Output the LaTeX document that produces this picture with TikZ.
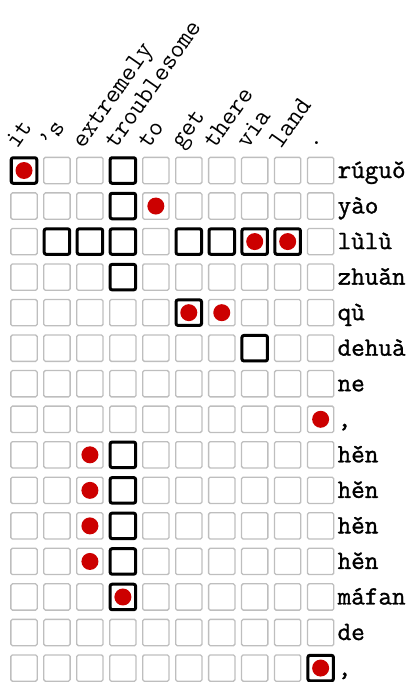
\documentclass[tikz,border=0pt]{standalone}
\usepackage{fontspec}
\newfontfamily\pinyinfont{Latin Modern Mono}[FakeBold=1.2]
\usetikzlibrary{positioning}
\definecolor{dotred}{RGB}{204,0,0}
\definecolor{cellgray}{RGB}{190,190,190}

\begin{document}
\begin{tikzpicture}[
  x=1bp, y=-1bp,
  cell/.style={draw=cellgray, line width=1.3bp, rounded corners=1.5bp, minimum width=26.3bp, minimum height=26.3bp, inner sep=0pt},
  hit/.style={draw=black, line width=3bp, rounded corners=2bp, minimum width=25.5bp, minimum height=25.5bp, inner sep=0pt},
  dot/.style={circle, fill=dotred, minimum size=17bp, inner sep=0pt},
  src/.style={font=\ttfamily\fontsize{26.5}{26.5}\selectfont, anchor=base west, rotate=55, inner sep=0pt},
  tgt/.style={font=\pinyinfont\fontsize{26.5}{26.5}\selectfont, anchor=base west, inner sep=0pt}
]
  \useasboundingbox (0,0) rectangle (411,682);
  % grid of cells
  \foreach \r in {0,...,14}
    \foreach \c in {0,...,9}
      \node[cell] (c\r-\c) at ({24+32.96*\c}, {170.5+35.54*\r}) {};
  % alignment boxes
  \foreach \r/\c in {0/0, 0/3, 1/3, 2/1, 2/2, 2/3, 2/5, 2/6, 2/7, 2/8, 3/3, 4/5, 5/7,
                     8/3, 9/3, 10/3, 11/3, 12/3, 14/9}
    \node[hit] (h\r-\c) at (c\r-\c) {};
  % predicted points
  \foreach \r/\c in {0/0, 1/4, 2/7, 2/8, 4/5, 4/6, 7/9, 8/2, 9/2, 10/2, 11/2, 12/3, 14/9}
    \node[dot] (d\r-\c) at (c\r-\c) {};
  % source words
  \foreach \w [count=\i from 0] in {it, ’s, extremely, troublesome, to, get, there, via, land, .}
    \node[src] (s\i) at ({17+32.96*\i}, 150) {\w};
  % target words
  \foreach \w [count=\i from 0] in {rúguǒ, yào, lùlù, zhuǎn, qù, dehuà, ne, {,}, hěn, hěn, hěn, hěn, máfan, de, {,}}
    \node[tgt] (t\i) at ([xshift=3bp, yshift=-7.5bp]c\i-9.east) {\w};
\end{tikzpicture}
\end{document}
